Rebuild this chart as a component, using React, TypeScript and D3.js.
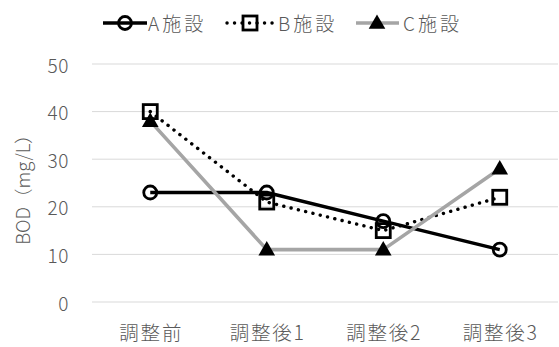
import React from "react";
import * as d3 from "d3";

const categories = ["調整前", "調整後1", "調整後2", "調整後3"];
const seriesNames = ["A施設", "B施設", "C施設"];
const seriesA = [23, 23, 17, 11];
const seriesB = [40, 21, 15, 22];
const seriesC = [38, 11, 11, 28];
const yTicks = [0, 10, 20, 30, 40, 50];
const yTitle = "BOD（mg/L）";

const W = 559;
const H = 347;
const FONT = "'Noto Sans CJK JP', 'Noto Sans', sans-serif";
const TEXT = "#595959";

type Marker = "circle" | "square" | "triangle";

function MarkerShape({ kind, x, y }: { kind: Marker; x: number; y: number }) {
  if (kind === "circle") {
    return <circle cx={x} cy={y} r={6.5} fill="none" stroke="#000" strokeWidth={2.8} />;
  }
  if (kind === "square") {
    return <rect x={x - 7} y={y - 7} width={14} height={14} fill="none" stroke="#000" strokeWidth={2.8} />;
  }
  const tri = d3.symbol().type(d3.symbolTriangle).size(120)();
  return <path d={tri || ""} transform={`translate(${x},${y + 1})`} fill="#000" />;
}

export default function App() {
  const x = d3.scaleBand<string>().domain(categories).range([92, 558]);
  const y = d3.scaleLinear().domain([0, 50]).range([302, 64]);
  const cx = (c: string) => (x(c) || 0) + x.bandwidth() / 2;

  const line = d3
    .line<number>()
    .x((_, i) => cx(categories[i]))
    .y((v) => y(v));

  const series = [
    { name: seriesNames[0], data: seriesA, color: "#000", width: 3.4, dash: undefined as string | undefined, cap: "butt", marker: "circle" as Marker },
    { name: seriesNames[1], data: seriesB, color: "#000", width: 3.4, dash: "0.1 7.4", cap: "round", marker: "square" as Marker },
    { name: seriesNames[2], data: seriesC, color: "#A5A5A5", width: 3.6, dash: undefined, cap: "butt", marker: "triangle" as Marker },
  ];

  const legend = [
    { x0: 103, x1: 147, mx: 125, tx: 148 },
    { x0: 227, x1: 274, mx: 250, tx: 278 },
    { x0: 356, x1: 399, mx: 377, tx: 403 },
  ];
  const ly = 23;

  return (
    <svg width={W} height={H} style={{ position: "absolute", left: 0, top: 0, background: "#fff" }} fontFamily={FONT} fontWeight={300}>
      <rect width={W} height={H} fill="#fff" />
      {yTicks.map((t) => (
        <g key={t}>
          <line x1={92} x2={558} y1={y(t)} y2={y(t)} stroke="#D9D9D9" strokeWidth={1} />
          <text x={69} y={y(t)} textAnchor="end" dominantBaseline="central" fontSize={19} fill={TEXT} letterSpacing={0.6}>
            {t}
          </text>
        </g>
      ))}
      {categories.map((c) => (
        <text key={c} x={cx(c) + 1} y={331} textAnchor="middle" dominantBaseline="central" fontSize={19.5} fill={TEXT} letterSpacing={1.8}>
          {c}
        </text>
      ))}
      <text
        transform={`translate(22,${y(25) + 2}) rotate(-90)`}
        textAnchor="middle"
        dominantBaseline="central"
        fontSize={18.5}
        fill={TEXT}
      >
        {yTitle}
      </text>
      {series.map((s) => (
        <g key={s.name}>
          <path
            d={line(s.data) || ""}
            fill="none"
            stroke={s.color}
            strokeWidth={s.width}
            strokeDasharray={s.dash}
            strokeLinecap={s.cap as any}
            strokeLinejoin="round"
          />
          {s.data.map((v, i) => (
            <MarkerShape key={i} kind={s.marker} x={cx(categories[i])} y={y(v)} />
          ))}
        </g>
      ))}
      {series.map((s, i) => (
        <g key={"lg" + s.name}>
          <line
            x1={legend[i].x0}
            x2={legend[i].x1}
            y1={ly}
            y2={ly}
            stroke={s.color}
            strokeWidth={s.width}
            strokeDasharray={s.dash}
            strokeLinecap={s.cap as any}
          />
          <MarkerShape kind={s.marker} x={legend[i].mx} y={ly} />
          <text x={legend[i].tx} y={ly - 1} dominantBaseline="central" fontSize={19} fill={TEXT} letterSpacing={3}>
            {s.name}
          </text>
        </g>
      ))}
    </svg>
  );
}
